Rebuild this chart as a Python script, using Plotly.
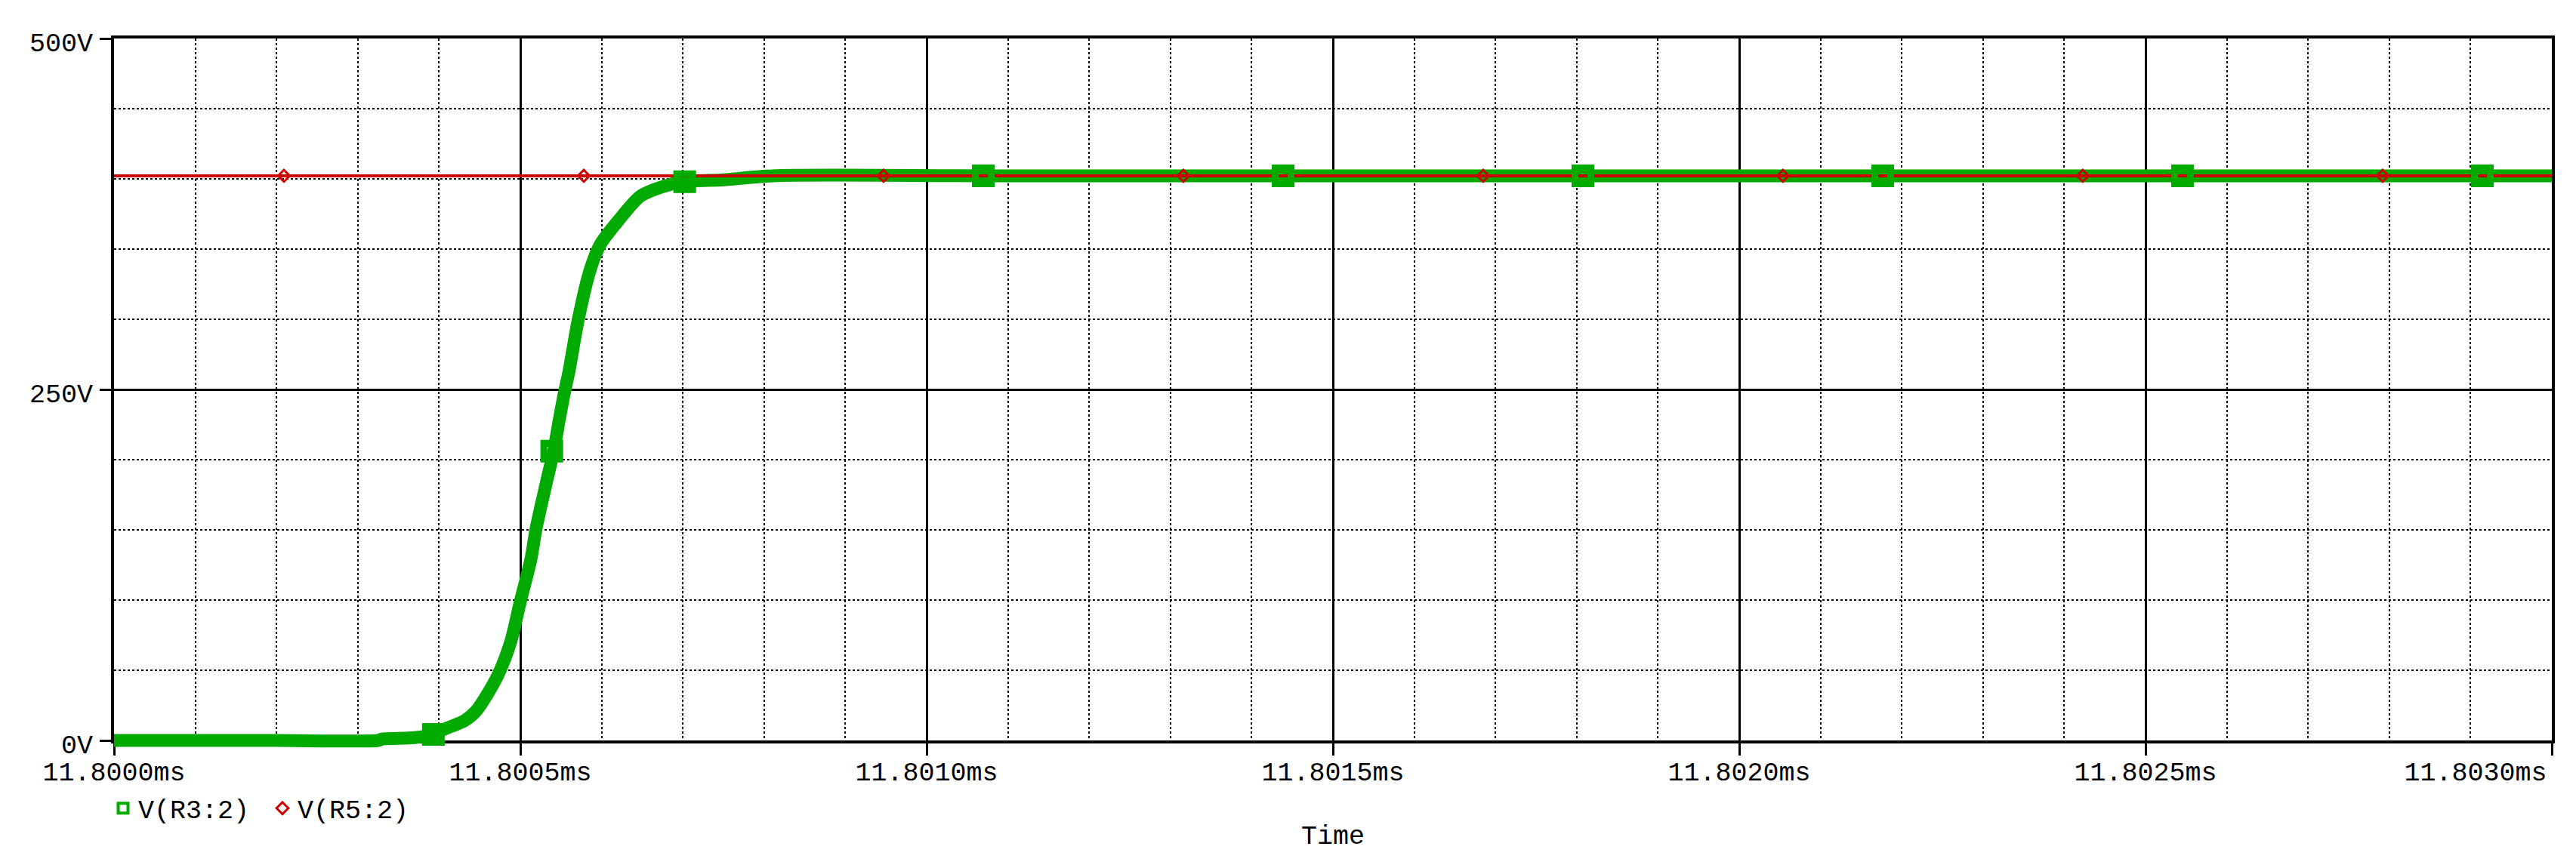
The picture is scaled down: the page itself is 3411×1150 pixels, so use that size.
import plotly.graph_objects as go

T0_MS = 11.8  # left edge of the time window, ms

# V(R3:2): time after T0 in microseconds, volts
r3_t_us = [0, 0.1, 0.2, 0.325, 0.33, 0.37, 0.393, 0.406, 0.4216, 0.4317, 0.446, 0.472, 0.488,
           0.5, 0.513, 0.5192, 0.5316, 0.541, 0.5476, 0.5533, 0.560, 0.571, 0.5858,
           0.598, 0.6214, 0.648, 0.6757, 0.702, 0.75, 0.81, 1.0697, 1.4387, 1.8076,
           2.1766, 2.5455, 2.9145, 3.0]
r3_v = [0, 0, 0, 0, 1.0, 2.0, 4.3, 7.9, 11.5, 14.2, 21.3, 46, 70,
        99, 129, 150.4, 182.6, 206, 227.4, 245, 263.3, 299, 335,
        352.9, 370.8, 387.8, 394.6, 398, 399.3, 402.2, 402.2, 402.2, 402.2,
        402.2, 402.2, 402.2, 402.2]
r3_mark_t_us = [0.393, 0.5387, 0.7023, 1.0697, 1.4387, 1.8076, 2.1766, 2.5455, 2.9145]
r3_mark_v = [4.3, 206, 398, 402.2, 402.2, 402.2, 402.2, 402.2, 402.2]

# V(R5:2)
r5_t_us = [0, 3.0]
r5_v = [402.2, 402.2]
r5_mark_t_us = [0.2091, 0.5781, 0.9470, 1.3160, 1.6849, 2.0539, 2.4228, 2.7918]
r5_mark_v = [402.2, 402.2, 402.2, 402.2, 402.2, 402.2, 402.2, 402.2]

x_ticks_ms = [11.8000, 11.8005, 11.8010, 11.8015, 11.8020, 11.8025, 11.8030]
x_tick_text = ["11.8000ms", "11.8005ms", "11.8010ms", "11.8015ms", "11.8020ms", "11.8025ms", "11.8030ms"]
y_ticks = [0, 250, 500]
y_tick_text = ["0V", "250V", "500V"]

GREEN = "#00AA00"
RED = "#CC0000"
FONT = dict(family="Liberation Mono, Courier New, monospace", size=35, color="black")


def to_ms(ts):
    return [T0_MS + t / 1000.0 for t in ts]


# page geometry: the frame is the black box, traces live on a slightly bigger
# overlaid subplot so the thick line at 0V is not clipped by the frame
W, H = 3411, 1150
FRAME_L, FRAME_R, FRAME_T, FRAME_B = 143, 3371, 43, 973
PAD_L, PAD_R, PAD_T, PAD_B = 15, 14, 8, 17
ml, mr, mt, mb = FRAME_L - PAD_L, W - FRAME_R - PAD_R, FRAME_T - PAD_T, H - FRAME_B - PAD_B
pw, ph = W - ml - mr, H - mt - mb

x0, x1 = x_ticks_ms[0], x_ticks_ms[-1]
y0, y1 = y_ticks[0], y_ticks[-1]
px_per_ms = (FRAME_R - FRAME_L) / (x1 - x0)
px_per_v = (FRAME_B - FRAME_T) / (y1 - y0)

fig = go.Figure()

# traces on the padded subplot (x2, y2)
fig.add_trace(go.Scatter(x=to_ms(r3_t_us), y=r3_v, mode="lines",
                         line=dict(color=GREEN, width=17, shape="spline", smoothing=0.8),
                         xaxis="x2", yaxis="y2", showlegend=False, hoverinfo="skip"))
fig.add_trace(go.Scatter(x=to_ms(r5_t_us), y=r5_v, mode="lines", line=dict(color=RED, width=4),
                         xaxis="x2", yaxis="y2", showlegend=False, hoverinfo="skip"))
fig.add_trace(go.Scatter(x=to_ms(r3_mark_t_us), y=r3_mark_v, mode="markers", cliponaxis=False,
                         marker=dict(symbol="square-open", size=21, color=GREEN,
                                     line=dict(color=GREEN, width=9)),
                         xaxis="x2", yaxis="y2", showlegend=False, hoverinfo="skip"))
fig.add_trace(go.Scatter(x=to_ms(r5_mark_t_us), y=r5_mark_v, mode="markers", cliponaxis=False,
                         marker=dict(symbol="diamond-open", size=12, color=RED,
                                     line=dict(color=RED, width=3)),
                         xaxis="x2", yaxis="y2", showlegend=False, hoverinfo="skip"))

# legend entries
fig.add_trace(go.Scatter(x=[None], y=[None], mode="markers", name="V(R3:2)",
                         marker=dict(symbol="square-open", size=13, color=GREEN,
                                     line=dict(color=GREEN, width=4)),
                         xaxis="x2", yaxis="y2"))
fig.add_trace(go.Scatter(x=[None], y=[None], mode="markers", name="V(R5:2)",
                         marker=dict(symbol="diamond-open", size=12, color=RED,
                                     line=dict(color=RED, width=3)),
                         xaxis="x2", yaxis="y2"))

# empty traces so the frame subplot and the last-label axis exist
fig.add_trace(go.Scatter(x=[], y=[], xaxis="x", yaxis="y", showlegend=False))
fig.add_trace(go.Scatter(x=[], y=[], xaxis="x3", yaxis="y", showlegend=False))

dom_x = [(FRAME_L - ml) / pw, (FRAME_R - ml) / pw]
dom_y = [(H - mb - FRAME_B) / ph, (H - mb - FRAME_T) / ph]

fig.update_layout(
    width=W, height=H,
    margin=dict(l=ml, r=mr, t=mt, b=mb),
    paper_bgcolor="white", plot_bgcolor="rgba(0,0,0,0)",
    font=FONT,
    xaxis=dict(domain=dom_x, range=[x0, x1], anchor="y",
               tickmode="array", tickvals=x_ticks_ms, ticktext=x_tick_text[:-1] + [""],
               ticks="outside", ticklen=16, tickwidth=3, tickcolor="black",
               tickfont=FONT, ticklabelstandoff=-9,
               showgrid=True, gridcolor="black", gridwidth=3,
               minor=dict(tickmode="linear", tick0=x0, dtick=0.0001, showgrid=True,
                          gridcolor="black", gridwidth=2, griddash="dot", ticks=""),
               showline=True, linecolor="black", linewidth=4, mirror=True, zeroline=False,
               title=dict(text="Time", font=FONT, standoff=50)),
    yaxis=dict(domain=dom_y, range=[y0, y1], anchor="x",
               tickmode="array", tickvals=y_ticks, ticktext=y_tick_text,
               ticks="outside", ticklen=15, tickwidth=3, tickcolor="black",
               tickfont=FONT, ticklabelstandoff=2, ticklabelshift=5,
               showgrid=True, gridcolor="black", gridwidth=3,
               minor=dict(tickmode="linear", tick0=0, dtick=50, showgrid=True,
                          gridcolor="black", gridwidth=2, griddash="dot", ticks=""),
               showline=True, linecolor="black", linewidth=4, mirror=True, zeroline=False),
    xaxis3=dict(overlaying="x", anchor="y", side="bottom", range=[x0, x1],
                tickmode="array", tickvals=x_ticks_ms[-1:], ticktext=x_tick_text[-1:],
                ticks="outside", ticklen=16, tickcolor="rgba(0,0,0,0)",
                ticklabelposition="outside left", tickfont=FONT,
                ticklabelstandoff=10, ticklabelshift=-6,
                showgrid=False, showline=False, zeroline=False),
    xaxis2=dict(domain=[0, 1], anchor="y2", visible=False,
                range=[x0 - PAD_L / px_per_ms, x1 + PAD_R / px_per_ms]),
    yaxis2=dict(domain=[0, 1], anchor="x2", visible=False,
                range=[y0 - PAD_B / px_per_v, y1 + PAD_T / px_per_v]),
    legend=dict(orientation="h", x=(135 - ml) / pw, xanchor="left",
                y=(H - mb - 1063) / ph, yanchor="middle",
                font=FONT, bgcolor="rgba(0,0,0,0)", entrywidth=166, entrywidthmode="pixels",
                itemclick=False, itemdoubleclick=False),
    showlegend=True,
)

fig.write_html("out.html")
